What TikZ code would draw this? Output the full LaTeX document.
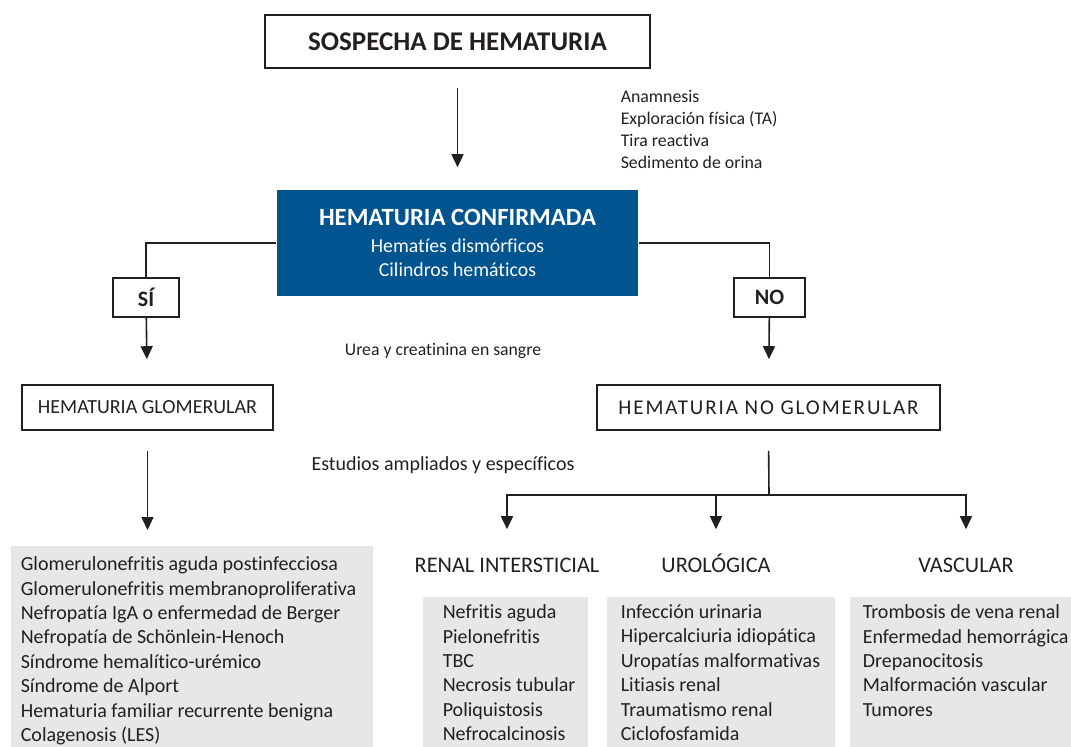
\documentclass[tikz,border=0pt]{standalone}
\usepackage{fontspec}
\setmainfont{Carlito}[Ligatures=NoCommon]
\usetikzlibrary{arrows.meta,positioning}
\definecolor{azul}{HTML}{00548F}
\definecolor{gris}{HTML}{E6E7E8}
\definecolor{tinta}{HTML}{231F20}
\tikzset{arr/.style={-{Triangle[length=13pt,width=12pt]}},
  caja/.style={draw, line width=1.6pt, inner sep=0pt, font=\fontsize{20}{24}\selectfont},
  nota/.style={inner sep=0pt, font=\fontsize{17.7}{22}\selectfont},
  cabe/.style={inner sep=0pt, anchor=base, text height=16pt, text depth=5pt, font=\fontsize{22.3}{26}\selectfont},
  fondo/.style={fill=gris, inner sep=0pt, anchor=north west},
  lista/.style={anchor=north west, inner sep=0pt, align=left, font=\fontsize{20}{24.4}\selectfont}}

\begin{document}
\begin{tikzpicture}[x=1pt, y=-1pt, line width=1.6pt, color=tinta]
  \useasboundingbox (0,0) rectangle (1071,747);
  % cabecera
  \node[caja, minimum width=385, minimum height=53, font=\bfseries\fontsize{27}{30}\selectfont] (sosp) at (457.5,41.5) {SOSPECHA DE HEMATURIA};
  \node[fill=azul, text=white, minimum width=361, minimum height=106, inner sep=0pt, align=center, font=\fontsize{19.8}{24}\selectfont] (conf) at (457.5,243)
    {{\bfseries\fontsize{24.8}{24}\selectfont HEMATURIA CONFIRMADA}\\[3pt]Hematíes dismórficos\\Cilindros hemáticos};
  \node[anchor=west, align=left, inner sep=0pt, font=\fontsize{17.8}{22}\selectfont] (pruebas) at (620,129)
    {Anamnesis\\Exploración física (TA)\\Tira reactiva\\Sedimento de orina};
  \node[caja, minimum width=66, minimum height=39, font=\bfseries\fontsize{22}{24}\selectfont] (si) at (146,297.5) {SÍ};
  \node[caja, minimum width=71, minimum height=39, font=\bfseries\fontsize{22}{24}\selectfont] (no) at (769.5,297.5) {NO};
  \node[nota] (urea) at (443,351) {Urea y creatinina en sangre};
  \node[caja, minimum width=251, minimum height=45] (glom) at (147.5,407.5) {HEMATURIA GLOMERULAR};
  \node[caja, minimum width=343, minimum height=45, font=\fontsize{21}{24}\selectfont\addfontfeature{LetterSpace=9}] (noglom) at (768.5,407.5) {HEMATURIA NO GLOMERULAR};
  \node[nota, font=\fontsize{20}{22}\selectfont] (estud) at (443,465) {Estudios ampliados y específicos};
  \coordinate (split) at (769,495);
  % grupos
  \node[cabe] (ri) at (507,572) {RENAL INTERSTICIAL};
  \node[cabe] (uro) at (716,572) {UROLÓGICA};
  \node[cabe] (vas) at (966,572) {VASCULAR};
  \node[fondo, minimum width=362, minimum height=215] (glbox) at (10,545) {};
  \node[fondo, minimum width=165, minimum height=165] (ribox) at (422,596) {};
  \node[fondo, minimum width=228, minimum height=165] (urobox) at (606,596) {};
  \node[fondo, minimum width=230, minimum height=165] (vasbox) at (849,596) {};
  \node[lista] (gllist) at (20,556) {Glomerulonefritis aguda postinfecciosa\\Glomerulonefritis membranoproliferativa\\Nefropatía IgA o enfermedad de Berger\\Nefropatía de Schönlein-Henoch\\Síndrome hemalítico-urémico\\Síndrome de Alport\\Hematuria familiar recurrente benigna\\Colagenosis (LES)};
  \node[lista] (rilist) at (442,604) {Nefritis aguda\\Pielonefritis\\TBC\\Necrosis tubular\\Poliquistosis\\Nefrocalcinosis};
  \node[lista] (urolist) at (620,604) {Infección urinaria\\Hipercalciuria idiopática\\Uropatías malformativas\\Litiasis renal\\Traumatismo renal\\Ciclofosfamida};
  \node[lista] (vaslist) at (862,604) {Trombosis de vena renal\\Enfermedad hemorrágica\\Drepanocitosis\\Malformación vascular\\Tumores};
  % flechas
  \draw[arr, shorten <=19pt, shorten >=22pt] (sosp) -- (conf);
  \draw (conf.west) -| (si.north);
  \draw (conf.east) -| (no.north);
  \draw[arr, shorten >=25pt] (si) -- (glom);
  \draw[arr, shorten >=25pt] (no) -- (noglom);
  \draw[arr, shorten <=20pt, shorten >=15pt] (glom.south) -- (glom.south |- glbox.north);
  \draw[shorten <=20pt] (noglom.south) -- (split);
  \foreach \c in {ri,uro,vas}{\draw[arr, shorten >=26pt] (split) -| (\c.north);}
\end{tikzpicture}
\end{document}
